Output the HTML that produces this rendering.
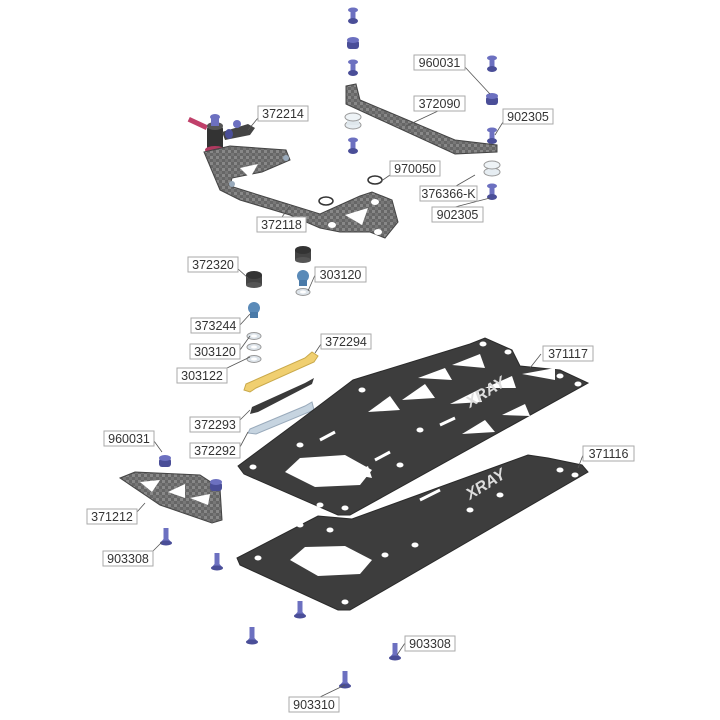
<!DOCTYPE html>
<html><head><meta charset="utf-8"><style>
html,body{margin:0;padding:0;background:#fff}
svg{display:block}
.lb rect{fill:#fff;stroke:#aaa;stroke-width:1}
.lb text{font-family:"Liberation Sans",sans-serif;font-size:12.5px;fill:#333}
.ld{stroke:#555;stroke-width:0.8;fill:none}
.pl{fill:#3d3d3d;stroke:#2a2a2a;stroke-width:1}
.h{fill:#fff}
.sc{fill:#6c70c0}
.sd{fill:#4a4e98}
</style></head><body>
<svg width="720" height="720" viewBox="0 0 720 720" xmlns="http://www.w3.org/2000/svg">
<defs>
<pattern id="cfp" width="6" height="6" patternUnits="userSpaceOnUse"><rect width="6" height="6" fill="#666"/><rect width="3" height="3" fill="#888"/><rect x="3" y="3" width="3" height="3" fill="#777"/></pattern>
<g id="scr"><rect x="-2.5" y="-2" width="5" height="11" class="sc"/><ellipse cx="0" cy="9" rx="5" ry="3" class="sd"/><ellipse cx="0" cy="-2" rx="5" ry="2.5" class="sc"/></g>
<g id="scrf"><rect x="-2.5" y="-7" width="5" height="12" class="sc"/><path d="M-6 8 L-2.5 4 L2.5 4 L6 8 Z" class="sc"/><ellipse cx="0" cy="8" rx="6" ry="2.5" class="sd"/></g>
<g id="nut"><rect x="-6" y="-4" width="12" height="9" rx="3" class="sd"/><ellipse cx="0" cy="-4" rx="6" ry="3" class="sc"/></g>
<g id="wash"><ellipse cx="0" cy="0" rx="7" ry="3.5" fill="#dde4ea" stroke="#999" stroke-width="1"/><ellipse cx="0" cy="0" rx="3" ry="1.5" fill="#fff"/></g>
<g id="dot"><ellipse rx="3.5" ry="2.5" fill="#fff"/></g>
</defs>

<use href="#scr" x="353" y="12"/>
<use href="#nut" x="353" y="44"/>
<use href="#scr" x="353" y="64"/>
<g><ellipse cx="353" cy="125" rx="8" ry="4" fill="#e6edf2" stroke="#999"/><rect x="347" y="117" width="12" height="8" fill="#dfe7ec"/><ellipse cx="353" cy="117" rx="8" ry="4" fill="#eef3f6" stroke="#999"/></g>
<use href="#scr" x="353" y="142"/>
<use href="#scr" x="492" y="60"/>
<use href="#nut" x="492" y="100"/>
<use href="#scr" x="492" y="132"/>
<g><ellipse cx="492" cy="172" rx="8" ry="4" fill="#e6edf2" stroke="#999"/><ellipse cx="492" cy="165" rx="8" ry="4" fill="#eef3f6" stroke="#999"/></g>
<use href="#scr" x="492" y="188"/>

<path d="M346 86 L356 84 L360 100 L455 140 L497 145 L497 152 L455 154 L346 104 Z" fill="url(#cfp)" stroke="#444"/>

<rect x="188" y="121" width="20" height="5" fill="#c0406a" transform="rotate(25 198 123)"/>
<rect x="207" y="126" width="16" height="24" fill="#333" rx="3"/>
<ellipse cx="215" cy="126" rx="8" ry="4" fill="#555"/>
<ellipse cx="215" cy="117" rx="5" ry="3" class="sc"/>
<rect x="211" y="118" width="8" height="8" class="sc"/>
<path d="M222 132 L248 124 L255 128 L250 135 L225 140 Z" fill="#444"/>
<circle cx="237" cy="124" r="4" class="sc"/>
<ellipse cx="229" cy="134" rx="4" ry="5" class="sd"/>
<ellipse cx="215" cy="150" rx="10" ry="4" fill="#b03a60"/>

<path d="M204 152 L230 146 L286 150 L290 160 L262 172 L232 178 L230 186 L320 214 L360 196 L372 192 L392 200 L398 222 L385 238 L370 232 L340 232 L320 228 L290 215 L240 200 L220 190 Z" fill="url(#cfp)" stroke="#444"/>
<path d="M240 168 L258 164 L250 178 Z" class="h"/>
<path d="M345 215 L368 208 L362 225 Z" class="h"/>
<circle cx="232" cy="184" r="3" fill="#9ab"/><circle cx="286" cy="158" r="3" fill="#9ab"/>
<ellipse cx="375" cy="202" rx="4" ry="3" class="h"/><ellipse cx="332" cy="225" rx="4" ry="3" class="h"/><ellipse cx="378" cy="232" rx="4" ry="3" class="h"/>
<ellipse cx="375" cy="180" rx="7" ry="4" fill="none" stroke="#333" stroke-width="1.5"/>
<ellipse cx="326" cy="201" rx="7" ry="4" fill="none" stroke="#333" stroke-width="1.5"/>

<g><rect x="295" y="250" width="16" height="10" fill="#444"/><ellipse cx="303" cy="250" rx="8" ry="4" fill="#333"/><ellipse cx="303" cy="260" rx="8" ry="3" fill="#555"/></g>
<circle cx="303" cy="276" r="6" fill="#5a8ab8"/><rect x="299" y="280" width="8" height="6" fill="#4a7aa8"/>
<use href="#wash" x="303" y="292"/>
<g><rect x="246" y="275" width="16" height="10" fill="#444"/><ellipse cx="254" cy="275" rx="8" ry="4" fill="#333"/><ellipse cx="254" cy="285" rx="8" ry="3" fill="#555"/></g>
<circle cx="254" cy="308" r="6" fill="#5a8ab8"/><rect x="250" y="312" width="8" height="6" fill="#4a7aa8"/>
<use href="#wash" x="254" y="336"/><use href="#wash" x="254" y="347"/><use href="#wash" x="254" y="359"/>

<path d="M246 384 L305 358 L312 352 L318 356 L314 362 L256 388 L250 392 L244 390 Z" fill="#f0cf70" stroke="#c9a94a"/>
<path d="M252 407 L305 383 L314 378 L312 384 L258 412 L250 414 Z" fill="#3a3a3a"/>
<path d="M250 429 L305 406 L312 402 L314 410 L256 434 L248 433 Z" fill="#c6d4e0" stroke="#9ab"/>

<!-- lower plate 371116 -->
<path class="pl" d="M237 558 L318 516 L352 519 L528 455 L548 458 L582 465 L588 472 L350 610 L338 610 L240 565 Z"/>
<path d="M290 560 L305 547 L345 546 L372 560 L360 574 L318 576 Z" class="h"/>
<g><use href="#dot" x="258" y="558"/><use href="#dot" x="345" y="602"/><use href="#dot" x="560" y="470"/><use href="#dot" x="575" y="475"/><use href="#dot" x="300" y="525"/><use href="#dot" x="415" y="545"/><use href="#dot" x="385" y="555"/><use href="#dot" x="470" y="510"/><use href="#dot" x="500" y="495"/><use href="#dot" x="330" y="530"/></g>
<path d="M420 500 L440 490" stroke="#fff" stroke-width="3"/>
<!-- upper plate 371117 -->
<path class="pl" d="M238 466 L300 420 L353 380 L470 344 L485 338 L512 350 L520 366 L560 370 L588 383 L350 515 L338 515 L244 474 Z"/>
<path d="M285 472 L300 458 L345 455 L372 470 L360 485 L315 487 Z" class="h"/>
<path d="M352 474 L368 466 L372 478 Z" class="h"/>
<path d="M368 412 L390 396 L400 410 Z" class="h"/><path d="M402 400 L425 384 L435 398 Z" class="h"/><path d="M418 378 L445 368 L452 380 Z" class="h"/><path d="M452 365 L480 354 L485 368 Z" class="h"/>
<path d="M450 404 L478 390 L482 402 Z" class="h"/><path d="M485 388 L512 376 L516 388 Z" class="h"/><path d="M522 374 L555 368 L555 380 Z" class="h"/>
<path d="M462 434 L485 420 L495 432 Z" class="h"/><path d="M502 415 L525 404 L530 416 Z" class="h"/>
<g><use href="#dot" x="253" y="467"/><use href="#dot" x="345" y="508"/><use href="#dot" x="362" y="390"/><use href="#dot" x="483" y="344"/><use href="#dot" x="508" y="352"/><use href="#dot" x="560" y="376"/><use href="#dot" x="578" y="384"/><use href="#dot" x="300" y="445"/><use href="#dot" x="320" y="505"/><use href="#dot" x="400" y="465"/><use href="#dot" x="420" y="430"/></g>
<path d="M320 440 L335 432 M375 460 L390 452 M440 425 L455 418" stroke="#fff" stroke-width="3"/>
<text x="470" y="408" transform="rotate(-32 470 408)" font-family="Liberation Sans,sans-serif" font-weight="bold" font-style="italic" font-size="16" fill="#ddd">XRAY</text>
<text x="470" y="500" transform="rotate(-32 470 500)" font-family="Liberation Sans,sans-serif" font-weight="bold" font-style="italic" font-size="16" fill="#ddd">XRAY</text>

<path d="M120 478 L135 472 L200 475 L220 488 L222 520 L212 523 L160 505 Z" fill="url(#cfp)" stroke="#444"/>
<path d="M140 482 L160 480 L152 492 Z" class="h"/><path d="M168 492 L185 484 L185 498 Z" class="h"/><path d="M190 498 L210 494 L208 505 Z" class="h"/>
<use href="#nut" x="165" y="462"/>
<use href="#nut" x="216" y="486"/>

<use href="#scrf" x="166" y="535"/>
<use href="#scrf" x="217" y="560"/>
<use href="#scrf" x="300" y="608"/>
<use href="#scrf" x="252" y="634"/>
<use href="#scrf" x="395" y="650"/>
<use href="#scrf" x="345" y="678"/>

<g class="ld">
<path d="M464 66 L490 94"/><path d="M438 111 L406 126"/><path d="M503 122 L495 135"/>
<path d="M258 118 L248 130"/><path d="M390 175 L380 182"/><path d="M456 186 L475 175"/><path d="M455 207 L490 198"/>
<path d="M282 217 L290 206"/><path d="M237 268 L248 278"/><path d="M315 275 L308 291"/>
<path d="M240 325 L250 314"/><path d="M240 350 L250 336"/><path d="M227 368 L250 357"/>
<path d="M321 344 L315 353"/><path d="M240 420 L250 410"/><path d="M240 447 L248 432"/>
<path d="M154 441 L162 452"/><path d="M137 512 L145 503"/><path d="M153 551 L162 542"/>
<path d="M405 643 L397 655"/><path d="M320 697 L345 685"/>
<path d="M541 354 L530 368"/><path d="M583 455 L578 468"/>
</g>

<g class="lb">
<rect x="414" y="55" width="51" height="15"/><text x="439.5" y="67" text-anchor="middle">960031</text>
<rect x="414" y="96" width="51" height="15"/><text x="439.5" y="108" text-anchor="middle">372090</text>
<rect x="503" y="109" width="50" height="15"/><text x="528" y="121" text-anchor="middle">902305</text>
<rect x="258" y="106" width="50" height="15"/><text x="283" y="118" text-anchor="middle">372214</text>
<rect x="390" y="161" width="50" height="15"/><text x="415" y="173" text-anchor="middle">970050</text>
<rect x="420" y="186" width="57" height="15"/><text x="448.5" y="198" text-anchor="middle">376366-K</text>
<rect x="432" y="207" width="51" height="15"/><text x="457.5" y="219" text-anchor="middle">902305</text>
<rect x="257" y="217" width="49" height="15"/><text x="281.5" y="229" text-anchor="middle">372118</text>
<rect x="188" y="257" width="50" height="15"/><text x="213" y="269" text-anchor="middle">372320</text>
<rect x="315" y="267" width="51" height="15"/><text x="340.5" y="279" text-anchor="middle">303120</text>
<rect x="191" y="318" width="49" height="15"/><text x="215.5" y="330" text-anchor="middle">373244</text>
<rect x="321" y="334" width="50" height="15"/><text x="346" y="346" text-anchor="middle">372294</text>
<rect x="190" y="344" width="50" height="15"/><text x="215" y="356" text-anchor="middle">303120</text>
<rect x="543" y="346" width="50" height="15"/><text x="568" y="358" text-anchor="middle">371117</text>
<rect x="177" y="368" width="50" height="15"/><text x="202" y="380" text-anchor="middle">303122</text>
<rect x="190" y="417" width="50" height="15"/><text x="215" y="429" text-anchor="middle">372293</text>
<rect x="190" y="443" width="50" height="15"/><text x="215" y="455" text-anchor="middle">372292</text>
<rect x="104" y="431" width="50" height="15"/><text x="129" y="443" text-anchor="middle">960031</text>
<rect x="583" y="446" width="51" height="15"/><text x="608.5" y="458" text-anchor="middle">371116</text>
<rect x="87" y="509" width="50" height="15"/><text x="112" y="521" text-anchor="middle">371212</text>
<rect x="103" y="551" width="50" height="15"/><text x="128" y="563" text-anchor="middle">903308</text>
<rect x="405" y="636" width="50" height="15"/><text x="430" y="648" text-anchor="middle">903308</text>
<rect x="289" y="697" width="50" height="15"/><text x="314" y="709" text-anchor="middle">903310</text>
</g>
</svg>
</body></html>
